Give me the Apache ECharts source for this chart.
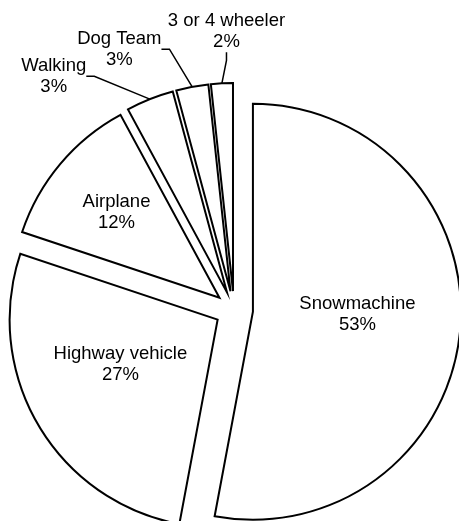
<!DOCTYPE html>
<html><head><meta charset="utf-8">
<script src="https://cdn.jsdelivr.net/npm/echarts@6/dist/echarts.min.js"></script>
<style>html,body{margin:0;padding:0;background:#fff}#c{width:459px;height:521px}</style>
</head><body><div id="c"></div>
<script>
const categories = ['Snowmachine', 'Highway vehicle', 'Airplane', 'Walking', 'Dog Team', '3 or 4 wheeler'];
const shares = [53.0, 27.2, 12.0, 3.7, 2.5, 1.7];
const percentLabels = ['53%', '27%', '12%', '3%', '3%', '2%'];

// layout / style settings (kept out of the data)
const pieCenter = [234, 310];
const pieRadius = 208;
const explode = 19;
const labelOutside = [false, false, false, true, true, true];
const labelNudge = [[-2, -7.5], [-5, -9.5], [-21, -16.5], [-45, -9], [-15, -23], [77, -37]];

const total = shares.reduce((a, b) => a + b, 0);
let cum = 0;
const midAngles = shares.map(v => { const m = (cum + v / 2) / total * 2 * Math.PI; cum += v; return m; });

const series = categories.map((_, i) => {
  const a = midAngles[i];
  return {
    type: 'pie',
    center: [pieCenter[0] + explode * Math.sin(a), pieCenter[1] - explode * Math.cos(a)],
    radius: pieRadius,
    startAngle: 90,
    clockwise: true,
    avoidLabelOverlap: false,
    silent: true,
    emphasis: {disabled: true},
    z: 2,
    data: categories.map((name, j) => ({
      name: name,
      value: shares[j],
      itemStyle: j === i
        ? {color: '#fff', borderColor: '#000', borderWidth: 2, borderJoin: 'miter'}
        : {color: 'rgba(0,0,0,0)', borderWidth: 0},
      label: {show: j === i, position: labelOutside[j] ? 'outside' : 'inside'},
      labelLine: {show: j === i && labelOutside[j]}
    })),
    label: {
      color: '#000',
      fontFamily: 'Liberation Sans, Arial, sans-serif',
      fontSize: 18.5,
      lineHeight: 21,
      align: 'center',
      formatter: p => categories[p.dataIndex] + '\n' + percentLabels[p.dataIndex]
    },
    labelLine: {length: 15, length2: 8, smooth: false, lineStyle: {color: '#000', width: 1.5}},
    labelLayout: function (p) {
      const k = p.dataIndex;
      const r = p.labelRect;
      return {
        x: r.x + r.width / 2 + labelNudge[k][0],
        y: r.y + r.height / 2 + labelNudge[k][1],
        align: 'center',
        verticalAlign: 'middle'
      };
    }
  };
});

const chart = echarts.init(document.getElementById('c'), null, {renderer: 'canvas'});
chart.setOption({animation: false, backgroundColor: '#fff', series: series});
</script></body></html>
